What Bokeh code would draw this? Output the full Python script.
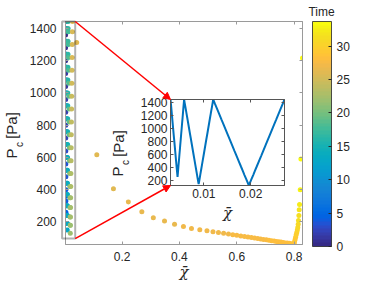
import math
from bokeh.plotting import figure
from bokeh.models import (ColumnDataSource, LinearColorMapper, ColorBar, FixedTicker,
                          LinearAxis, Label, Arrow, NormalHead, PolyAnnotation, Range1d)
from bokeh.embed import file_html
from bokeh.resources import INLINE

# ---------------- data ----------------
# cycle 1, unloading / reloading
a_chi = [0.00290, 0.00301, 0.00311, 0.00321, 0.00331, 0.00341, 0.00351, 0.00361,
         0.00372, 0.00382, 0.00392, 0.00402, 0.00412, 0.00422, 0.00431, 0.00440]
a_pc = [1443, 1360, 1280, 1200, 1120, 1040, 960, 880, 800, 720, 640, 560, 480, 400, 330, 260]
a_t = [0.00, 0.29, 0.58, 0.87, 1.16, 1.44, 1.73, 2.02, 2.31, 2.60, 2.89, 3.18, 3.47, 3.75, 4.04, 4.33]

b_chi = [0.00445, 0.00452, 0.00461, 0.00471, 0.00480, 0.00490, 0.00499, 0.00509,
         0.00518, 0.00528, 0.00537, 0.00547, 0.00556, 0.00565, 0.00575, 0.00580]
b_pc = [300, 360, 440, 520, 600, 680, 760, 840, 920, 1000, 1080, 1160, 1240, 1320, 1400, 1443]
b_t = [4.60, 4.87, 5.14, 5.41, 5.68, 5.96, 6.23, 6.50, 6.77, 7.04, 7.31, 7.58, 7.85, 8.13, 8.40, 8.67]

# cycle 2
c_chi = [0.00590, 0.00610, 0.00629, 0.00648, 0.00667, 0.00686, 0.00705, 0.00725, 0.00744,
         0.00763, 0.00782, 0.00801, 0.00820, 0.00837, 0.00854, 0.00868, 0.00880, 0.00890]
c_pc = [1400, 1320, 1240, 1160, 1080, 1000, 920, 840, 760, 680, 600, 520, 440, 370, 300, 240, 190, 150]
c_t = [8.91, 9.15, 9.39, 9.63, 9.87, 10.11, 10.36, 10.60, 10.84, 11.08, 11.32, 11.56,
       11.80, 12.04, 12.28, 12.52, 12.76, 13.00]

d_chi = [0.00900, 0.00912, 0.00926, 0.00943, 0.00960, 0.00979, 0.00998, 0.01017, 0.01036,
         0.01055, 0.01075, 0.01094, 0.01113, 0.01132, 0.01151, 0.01171, 0.01190, 0.01200]
d_pc = [190, 240, 300, 370, 440, 520, 600, 680, 760, 840, 920, 1000, 1080, 1160, 1240, 1320, 1400, 1443]
d_t = [13.24, 13.48, 13.72, 13.96, 14.20, 14.45, 14.69, 14.93, 15.17, 15.41, 15.65, 15.89,
       16.13, 16.37, 16.61, 16.85, 17.09, 17.33]

# cycle 3
e_chi = [0.01236, 0.01283, 0.01329, 0.01375, 0.01422, 0.01468, 0.01514, 0.01561, 0.01607,
         0.01653, 0.01700, 0.01746, 0.01792, 0.01833, 0.01867, 0.01902, 0.01931, 0.01960]
e_pc = [1380, 1300, 1220, 1140, 1060, 980, 900, 820, 740, 660, 580, 500, 420, 350, 290, 230, 180, 130]
e_t = [17.57, 17.81, 18.05, 18.30, 18.54, 18.78, 19.02, 19.26, 19.50, 19.74, 19.98, 20.22,
       20.47, 20.71, 20.95, 21.19, 21.43, 21.67]

f_chi = [0.01989, 0.02018, 0.02053, 0.02087, 0.02128, 0.02174, 0.02221, 0.02267, 0.02313,
         0.02359, 0.02406, 0.02452, 0.02498, 0.02545, 0.02591, 0.02637, 0.02684, 0.02720]
f_pc = [180, 230, 290, 350, 420, 500, 580, 660, 740, 820, 900, 980, 1060, 1140, 1220, 1300, 1380, 1443]
f_t = [21.91, 22.15, 22.39, 22.63, 22.87, 23.11, 23.36, 23.60, 23.84, 24.08, 24.32, 24.56,
       24.80, 25.04, 25.28, 25.52, 25.76, 26.00]

# final unloading (large strain) and reloading
g_chi = [0.042, 0.112, 0.170, 0.222, 0.269, 0.309, 0.348, 0.383, 0.414, 0.442, 0.471,
         0.496, 0.517, 0.536, 0.554, 0.571, 0.586, 0.600, 0.614, 0.627, 0.639,
         0.651, 0.662, 0.673, 0.683, 0.693, 0.703, 0.712, 0.721, 0.730, 0.738,
         0.746, 0.754, 0.762, 0.769, 0.776, 0.783, 0.790, 0.796, 0.800]
g_pc = [1313, 616, 405, 323, 263, 226, 205, 186, 172, 160, 152,
        145, 139, 134, 129, 125, 121, 117, 113, 109, 106,
        103, 100, 97, 94, 91, 89, 86, 84, 81, 79,
        77, 75, 72, 70, 69, 67, 65, 63, 62]
g_t = [26.10, 26.20, 26.30, 26.40, 26.50, 26.60, 26.70, 26.80, 26.90, 27.00, 27.10,
       27.15, 27.20, 27.25, 27.30, 27.35, 27.40, 27.45, 27.50, 27.55, 27.60,
       27.65, 27.70, 27.75, 27.80, 27.85, 27.90, 27.95, 28.00, 28.05, 28.10,
       28.15, 28.20, 28.25, 28.30, 28.35, 28.40, 28.45, 28.50, 28.55]

h_chi = [0.801, 0.803, 0.805, 0.807, 0.809, 0.811, 0.8125, 0.814, 0.815, 0.8164,
         0.8175, 0.8187, 0.821, 0.8234, 0.829]
h_pc = [75, 90, 105, 120, 135, 150, 165, 185, 209, 240, 276, 308, 399, 591, 1217]
h_t = [28.8, 29.1, 29.4, 29.7, 30.0, 30.3, 30.6, 30.9, 31.2, 31.5, 31.8, 32.2, 32.7, 33.2, 33.7]

x_ticks = [0.2, 0.4, 0.6, 0.8]
y_ticks = [200, 400, 600, 800, 1000, 1200, 1400]
inset_x_ticks = [0.01, 0.02]
inset_y_ticks = [200, 400, 600, 800, 1000, 1200, 1400]
cbar_ticks = [0, 5, 10, 15, 20, 25, 30]

x_label = "\u03c7\u0304"
y_label_main, y_label_sub, y_label_unit = "P", "c", "[Pa]"
cbar_title = "Time"

# ---------------- ranges ----------------
XMIN, XMAX = 0.0029, 0.829
YMIN, YMAX = 60, 1443
IXMIN, IXMAX = 0.0029, 0.0272
IYMIN, IYMAX = 130, 1443
TMIN, TMAX = 0, 33.7
RECT_X = (-0.009, 0.0367)
RECT_Y = (97, 1443)

# ---------------- styles ----------------
FONT = "Liberation Sans"
TEXT = "#262626"
MAIN_AX = "#9a9a9a"
INSET_AX = "#555555"
LINE_BLUE = "#0072bd"

PARULA = ["#352a87", "#363093", "#3637a0", "#353dad", "#3243ba", "#2c4ac7", "#2053d4", "#0f5cdd",
          "#0363e1", "#0268e1", "#046de0", "#0871de", "#0d75dc", "#1079da", "#127dd8", "#1481d6",
          "#1485d4", "#1389d3", "#108ed2", "#0c93d2", "#0998d1", "#079ccf", "#06a0cd", "#06a4ca",
          "#06a7c6", "#07a9c2", "#0aacbe", "#0faeb9", "#15b1b4", "#1db3af", "#25b5a9", "#2eb7a4",
          "#38b99e", "#42bb98", "#4dbc92", "#59bd8c", "#65be86", "#71bf80", "#7cbf7b", "#87bf77",
          "#92bf73", "#9cbf6f", "#a5be6b", "#aebe67", "#b7bd64", "#c0bc60", "#c8bc5d", "#d1bb59",
          "#d9ba56", "#e1b952", "#e9b94e", "#f1b94a", "#f8bb44", "#fdbe3d", "#ffc337", "#fec832",
          "#fcce2e", "#fad32a", "#f7d826", "#f5de21", "#f5e41d", "#f5eb18", "#f6f313", "#f9fb0e"]

# layout (px, page = canvas coordinates)
W, H = 360, 285
FL, FT, FW, FH = 65, 21, 237, 223
INS_L, INS_T, INS_W, INS_H = 170, 99, 114, 86       # inset frame
INS_BL, INS_BT, INS_BR, INS_BB = 60, 6, 6, 35

MAIN_BOTTOM = FT + FH
SX = (XMAX - XMIN) / FW
SY = (YMAX - YMIN) / FH


def page_to_main(px, py):
    return XMIN + (px - FL) * SX, YMIN + (MAIN_BOTTOM - py) * SY


def style_axis(ax, ticks, color, show_labels=True, standoff=4):
    ax.ticker = FixedTicker(ticks=ticks)
    ax.axis_line_color = color
    ax.major_tick_line_color = color
    ax.major_tick_in = 3
    ax.major_tick_out = 0
    ax.minor_tick_line_color = None
    ax.major_label_standoff = standoff
    if show_labels:
        ax.major_label_text_font = FONT
        ax.major_label_text_font_size = "12px"
        ax.major_label_text_color = TEXT
    else:
        ax.major_label_overrides = {t: "" for t in ticks}
        ax.major_label_text_font_size = "1px"
        ax.major_label_standoff = 0


chi = a_chi + b_chi + c_chi + d_chi + e_chi + f_chi + g_chi + h_chi
pc = a_pc + b_pc + c_pc + d_pc + e_pc + f_pc + g_pc + h_pc
tt = a_t + b_t + c_t + d_t + e_t + f_t + g_t + h_t
zoom_chi = a_chi + b_chi + c_chi + d_chi + e_chi + f_chi
zoom_pc = a_pc + b_pc + c_pc + d_pc + e_pc + f_pc

src = ColumnDataSource(dict(chi=chi, pc=pc, time=tt))
zsrc = ColumnDataSource(dict(chi=zoom_chi, pc=zoom_pc))

mapper = LinearColorMapper(palette=PARULA, low=TMIN, high=TMAX)

# ---------------- main figure ----------------
p = figure(width=W, height=H, x_range=Range1d(XMIN, XMAX), y_range=Range1d(YMIN, YMAX),
           output_backend="svg", toolbar_location=None,
           min_border_left=FL, min_border_top=FT, min_border_right=W - FL - FW,
           min_border_bottom=H - FT - FH)
p.grid.visible = False
p.outline_line_color = MAIN_AX
p.background_fill_color = "white"
style_axis(p.xaxis[0], x_ticks, MAIN_AX, standoff=7)
style_axis(p.yaxis[0], y_ticks, MAIN_AX, standoff=9)

top_ax = LinearAxis()
style_axis(top_ax, x_ticks, MAIN_AX, show_labels=False)
p.add_layout(top_ax, "above")
right_ax = LinearAxis()
style_axis(right_ax, y_ticks, MAIN_AX, show_labels=False)
p.add_layout(right_ax, "right")

p.scatter(x="chi", y="pc", source=src, size=5, line_color=None,
          fill_color={"field": "time", "transform": mapper})

cb = ColorBar(color_mapper=mapper, ticker=FixedTicker(ticks=cbar_ticks), width=19, height=225,
              location=(10, -2), margin=0, padding=0, label_standoff=5,
              major_label_text_font=FONT, major_label_text_font_size="12px",
              major_label_text_color=TEXT, major_tick_line_color=TEXT,
              major_tick_in=3, major_tick_out=0, minor_tick_line_color=None,
              bar_line_color=TEXT, bar_line_width=0.8, border_line_color=None,
              background_fill_alpha=0)
p.add_layout(cb, "right")

# ---------------- inset ----------------
inset = figure(width=INS_BL + INS_W + INS_BR, height=INS_BT + INS_H + INS_BB,
               x_range=Range1d(IXMIN, IXMAX), y_range=Range1d(IYMIN, IYMAX),
               output_backend="svg", toolbar_location=None,
               min_border_left=INS_BL, min_border_right=INS_BR,
               min_border_top=INS_BT, min_border_bottom=INS_BB,
               border_fill_alpha=0, background_fill_color="white",
               outline_line_color=INSET_AX)
inset.styles = {"position": "absolute", "left": f"{INS_L - INS_BL}px",
                "top": f"{INS_T - INS_BT}px", "z-index": "5"}
inset.grid.visible = False
style_axis(inset.xaxis[0], inset_x_ticks, INSET_AX, standoff=3)
style_axis(inset.yaxis[0], inset_y_ticks, INSET_AX, standoff=3)
itop = LinearAxis()
style_axis(itop, inset_x_ticks, INSET_AX, show_labels=False)
inset.add_layout(itop, "above")
iright = LinearAxis()
style_axis(iright, inset_y_ticks, INSET_AX, show_labels=False)
inset.add_layout(iright, "right")

inset.line(x="chi", y="pc", source=zsrc, line_color=LINE_BLUE, line_width=2)

# ---------------- overlay (same data coordinates as the main axes, whole canvas) ----------------
ox0, oy_top = page_to_main(0, 0)
ox1, oy_bot = page_to_main(W, H)
ov = figure(width=W, height=H, x_range=Range1d(ox0, ox1), y_range=Range1d(oy_bot, oy_top),
            output_backend="svg", toolbar_location=None,
            x_axis_location=None, y_axis_location=None,
            min_border_left=0, min_border_right=0, min_border_top=0, min_border_bottom=0,
            border_fill_alpha=0, background_fill_alpha=0, outline_line_color=None)
ov.grid.visible = False
ov.styles = {"position": "absolute", "left": "0px", "top": "0px", "z-index": "10"}

ov.add_layout(PolyAnnotation(xs=[RECT_X[0], RECT_X[1], RECT_X[1], RECT_X[0]],
                             ys=[RECT_Y[0], RECT_Y[0], RECT_Y[1], RECT_Y[1]],
                             fill_alpha=0, line_color="black", line_width=2))
corner_top = page_to_main(INS_L, INS_T)
corner_bot = page_to_main(INS_L, INS_T + INS_H)
for (ys, (xe, ye)) in [(RECT_Y[1], corner_top), (RECT_Y[0], corner_bot)]:
    ov.add_layout(Arrow(x_start=RECT_X[1], y_start=ys, x_end=xe, y_end=ye,
                        line_color="#ff0000", line_width=1.5,
                        end=NormalHead(size=7, fill_color="#ff0000", line_color="#ff0000",
                                       line_width=1)))


def add_text(px, py, text, size, angle=0.0, style="normal", font=FONT):
    ov.add_layout(Label(x=px, y=H - py, x_units="screen", y_units="screen", text=text,
                        angle=angle, text_align="center", text_baseline="middle",
                        text_font=font, text_font_size=f"{size}px",
                        text_font_style=style, text_color=TEXT))


def add_pc_label(cx, cy):
    # cx, cy: centre of the "P"
    add_text(cx, cy, y_label_main, 15, angle=math.pi / 2)
    add_text(cx + 8, cy - 9, y_label_sub, 10, angle=math.pi / 2)
    add_text(cx + 0.5, cy - 28, y_label_unit, 15, angle=math.pi / 2)


add_text(FL + FW / 2, 271, x_label, 15, style="italic", font="DejaVu Serif")
add_pc_label(10.5, 153)
add_text(321, 11, cbar_title, 12)
add_text(INS_L + INS_W / 2, 212, x_label, 15, style="italic", font="DejaVu Serif")
add_pc_label(117, 171)

open("out.html", "w").write(file_html((p, inset, ov), INLINE))
